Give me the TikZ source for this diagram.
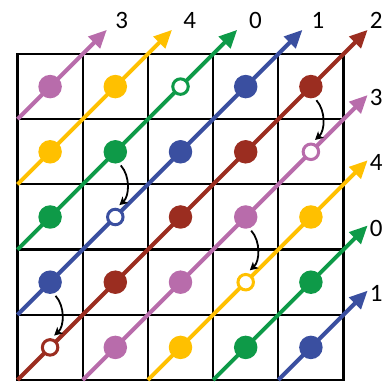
\documentclass[tikz,border=0pt]{standalone}
\usepackage{fontspec}
\setmainfont{Carlito}
\usetikzlibrary{arrows.meta}
\definecolor{cP}{HTML}{B86CAB}
\definecolor{cY}{HTML}{FFC000}
\definecolor{cG}{HTML}{0E9A48}
\definecolor{cB}{HTML}{3A4FA0}
\definecolor{cR}{HTML}{9B2D20}
\tikzset{
  gridline/.style={line width=2.2pt, black, line cap=rect},
  diag/.style={line width=4pt, -{Triangle[length=18pt,width=16pt]}},
  dot/.style={circle, inner sep=0pt, minimum size=23.5pt, fill=#1},
  hole/.style={circle, inner sep=0pt, minimum size=15.5pt, draw=#1, line width=3pt, fill=white},
  lab/.style={font=\fontsize{25}{25}\selectfont, inner sep=0pt},
  move/.style={-{Stealth[length=8pt,width=8.5pt,inset=2pt]}, line width=1.8pt, black, shorten <=3pt, shorten >=4pt},
}
\begin{document}
\begin{tikzpicture}[x=65.2pt,y=65.2pt]
\useasboundingbox (-0.2684,-0.0767) rectangle (5.6212,5.8282);
\foreach \i in {0,...,5}{
  \draw[gridline] (\i,0) -- (\i,5);
  \draw[gridline] (0,\i) -- (5,\i);
}
% diagonals reaching the top edge
\foreach \s/\k/\lx/\txt in {2/cP/1.60/3, 3/cY/2.64/4, 4/cG/3.65/0, 5/cB/4.61/1, 6/cR/5.50/2}{
  \coordinate (a\s) at (0,6-\s);
  \coordinate (t\s) at (\s-1+0.37,5.37);
  \draw[diag,\k] (a\s) -- (t\s);
  \node[lab] (l\s) at (\lx,5.514) {\txt};
}
% diagonals reaching the right edge
\foreach \s/\k/\txt in {7/cP/3, 8/cY/4, 9/cG/0, 10/cB/1}{
  \coordinate (a\s) at (\s-6,0);
  \coordinate (t\s) at (5.37,11-\s+0.37);
  \draw[diag,\k] (a\s) -- (t\s);
  \node[lab,anchor=west] (l\s) at (5.40,11-\s+0.33) {\txt};
}
% cells
\foreach \r/\c/\k/\t in {
  1/1/cP/dot, 1/2/cY/dot, 1/3/cG/hole, 1/4/cB/dot, 1/5/cR/dot,
  2/1/cY/dot, 2/2/cG/dot, 2/3/cB/dot, 2/4/cR/dot, 2/5/cP/hole,
  3/1/cG/dot, 3/2/cB/hole, 3/3/cR/dot, 3/4/cP/dot, 3/5/cY/dot,
  4/1/cB/dot, 4/2/cR/dot, 4/3/cP/dot, 4/4/cY/hole, 4/5/cG/dot,
  5/1/cR/hole, 5/2/cP/dot, 5/3/cY/dot, 5/4/cG/dot, 5/5/cB/dot}{
  \node[\t=\k] (n\r\c) at (\c-0.5,5.5-\r) {};
}
% moves
\foreach \a/\b in {n15/n25, n22/n32, n34/n44, n41/n51}{
  \draw[move] (\a.-73) to[bend left=45] (\b.83);
}
\end{tikzpicture}
\end{document}
